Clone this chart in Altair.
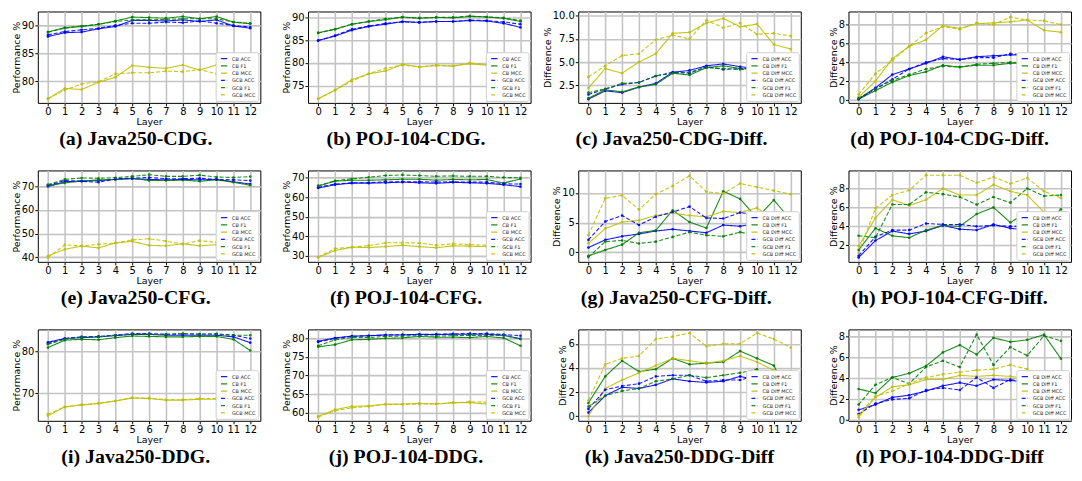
import altair as alt
import pandas as pd

LAYERS = list(range(13))

PERF_NAMES = ["CB ACC", "CB F1", "CB MCC", "GCB ACC", "GCB F1", "GCB MCC"]
DIFF_NAMES = ["CB Diff ACC", "CB Diff F1", "CB Diff MCC", "GCB Diff ACC", "GCB Diff F1", "GCB Diff MCC"]
COLORS = ["#0000ff", "#008000", "#bfbf00", "#0000ff", "#008000", "#bfbf00"]
DASHES = [[1, 0], [1, 0], [1, 0], [4, 2], [4, 2], [4, 2]]
OPACS = [0.9, 0.9, 0.9, 0.6, 0.6, 0.6]

# (a) Java250-CDG
A_CB_ACC = [88.0, 88.7, 88.8, 89.4, 89.8, 90.9, 90.9, 90.8, 91.0, 90.7, 91.0, 89.9, 89.5]
A_CB_F1 = [88.8, 89.6, 89.8, 90.2, 90.8, 91.5, 91.4, 91.3, 91.6, 91.2, 91.6, 90.6, 90.3]
A_CB_MCC = [76.8, 78.7, 78.5, 79.8, 80.7, 82.8, 82.5, 82.3, 82.9, 82.0, 82.9, 80.8, 80.3]
A_GCB_ACC = [88.3, 88.9, 89.2, 89.5, 90.0, 90.4, 90.4, 90.6, 90.5, 90.8, 90.4, 90.0, 89.7]
A_GCB_F1 = [88.8, 89.5, 89.9, 90.2, 90.7, 91.0, 91.0, 91.1, 91.2, 91.2, 91.2, 90.6, 90.4]
A_GCB_MCC = [76.9, 78.4, 79.5, 79.9, 81.3, 81.5, 81.5, 81.8, 81.7, 82.1, 81.3, 81.0, 80.5]

# (b) POJ-104-CDG
B_CB_ACC = [84.9, 85.9, 87.2, 88.0, 88.5, 89.1, 88.9, 89.1, 89.1, 89.3, 89.2, 88.7, 87.8]
B_CB_F1 = [86.6, 87.4, 88.5, 89.1, 89.5, 90.1, 89.8, 90.0, 89.9, 90.2, 90.1, 89.8, 89.1]
B_CB_MCC = [72.1, 74.0, 76.3, 77.6, 78.2, 79.7, 79.1, 79.4, 79.3, 79.8, 79.5, 79.0, 77.8]
B_GCB_ACC = [84.9, 86.0, 87.4, 88.1, 88.7, 89.0, 88.9, 89.1, 89.1, 89.4, 89.3, 89.0, 88.5]
B_GCB_F1 = [86.6, 87.4, 88.5, 89.1, 89.7, 90.0, 89.9, 90.0, 90.0, 90.3, 90.1, 89.9, 89.3]
B_GCB_MCC = [72.1, 74.0, 76.0, 77.6, 78.8, 79.5, 79.1, 79.5, 79.3, 80.0, 79.6, 79.3, 78.3]

# (c) Java250-CDG-Diff
C_CB_ACC = [1.0, 1.9, 1.7, 2.3, 2.7, 3.9, 4.1, 4.6, 4.8, 4.5, 4.3, 4.0, 3.2]
C_CB_F1 = [1.1, 2.0, 1.8, 2.3, 2.6, 3.8, 3.6, 4.4, 4.6, 4.3, 4.2, 3.9, 3.1]
C_CB_MCC = [2.2, 4.3, 3.8, 5.0, 5.9, 8.1, 8.2, 9.2, 9.7, 8.8, 9.1, 6.9, 6.4]
C_GCB_ACC = [1.5, 2.1, 2.6, 2.8, 3.5, 3.9, 3.8, 4.5, 4.2, 4.3, 4.3, 3.9, 3.3]
C_GCB_F1 = [1.7, 2.1, 2.7, 2.8, 3.5, 3.8, 3.9, 4.4, 4.3, 4.2, 4.2, 3.8, 3.2]
C_GCB_MCC = [3.4, 4.6, 5.7, 5.9, 7.4, 7.9, 7.5, 9.5, 8.7, 9.2, 8.0, 8.1, 7.8]

# (d) POJ-104-CDG-Diff
D_CB_ACC = [0.1, 1.3, 2.7, 3.3, 3.9, 4.6, 4.3, 4.6, 4.7, 4.8, 4.8, 4.7, 4.3]
D_CB_F1 = [0.1, 1.0, 1.9, 2.6, 3.0, 3.7, 3.5, 3.7, 3.7, 3.9, 3.9, 3.8, 3.7]
D_CB_MCC = [0.3, 2.0, 4.4, 5.7, 6.4, 7.9, 7.6, 8.1, 8.2, 8.3, 8.5, 7.4, 7.2]
D_GCB_ACC = [0.1, 1.2, 2.2, 3.3, 4.0, 4.4, 4.3, 4.5, 4.5, 4.9, 4.8, 4.3, 4.2]
D_GCB_F1 = [0.2, 1.2, 2.1, 2.7, 3.3, 3.6, 3.5, 3.8, 3.9, 4.0, 3.9, 3.9, 3.9]
D_GCB_MCC = [0.6, 2.8, 4.2, 5.7, 7.1, 7.8, 7.5, 8.2, 8.0, 8.8, 8.5, 8.4, 8.0]

# (e) Java250-CFG
E_CB_ACC = [70.0, 72.0, 72.3, 72.5, 73.0, 73.3, 73.0, 72.8, 73.0, 72.8, 73.0, 72.0, 71.0]
E_CB_F1 = [70.3, 71.5, 72.3, 72.8, 73.0, 73.5, 72.5, 72.5, 72.7, 72.2, 72.8, 71.8, 70.5]
E_CB_MCC = [40.5, 43.3, 44.7, 43.9, 46.0, 46.7, 45.0, 44.8, 45.7, 44.8, 45.3, 45.0, 45.5]
E_GCB_ACC = [70.5, 72.5, 72.2, 71.8, 73.2, 73.5, 73.8, 73.3, 73.3, 73.5, 73.0, 72.8, 72.5]
E_GCB_F1 = [70.8, 73.0, 73.6, 73.5, 73.7, 74.3, 75.0, 74.3, 74.3, 74.8, 74.0, 73.8, 74.2]
E_GCB_MCC = [39.8, 45.2, 44.8, 45.4, 46.0, 47.3, 47.8, 46.8, 45.5, 47.0, 46.3, 45.5, 45.8]

# (f) POJ-104-CFG
F_CB_ACC = [64.8, 66.5, 67.3, 67.3, 67.5, 67.8, 67.5, 67.2, 67.7, 67.5, 67.2, 66.5, 65.5]
F_CB_F1 = [65.8, 68.3, 68.8, 68.8, 69.0, 69.3, 69.3, 68.8, 69.2, 69.0, 69.2, 67.3, 69.5]
F_CB_MCC = [29.3, 32.8, 34.5, 34.3, 34.8, 35.5, 34.8, 34.2, 35.2, 35.0, 34.8, 34.0, 33.5]
F_GCB_ACC = [65.2, 66.8, 67.5, 67.5, 68.0, 68.0, 68.0, 67.8, 68.0, 67.8, 67.8, 67.0, 66.8]
F_GCB_F1 = [66.0, 68.5, 69.5, 70.3, 71.2, 71.5, 71.2, 70.8, 71.0, 70.8, 70.8, 70.2, 70.0]
F_GCB_MCC = [29.5, 33.8, 34.5, 35.3, 36.8, 36.8, 36.6, 35.5, 36.2, 35.8, 35.5, 35.0, 34.8]

# (g) Java250-CFG-Diff
G_CB_ACC = [0.8, 2.1, 2.7, 3.1, 3.6, 3.9, 3.6, 3.3, 4.6, 4.4, 4.9, 3.8, 3.5]
G_CB_F1 = [-0.6, 0.4, 1.3, 3.3, 3.7, 7.1, 5.1, 4.1, 10.3, 9.0, 5.8, 8.8, 5.5]
G_CB_MCC = [1.5, 4.0, 5.1, 5.4, 6.2, 6.6, 6.2, 6.0, 6.9, 6.7, 7.5, 5.5, 5.0]
G_GCB_ACC = [2.1, 5.2, 6.2, 4.6, 6.0, 6.8, 7.7, 5.8, 5.7, 6.7, 6.4, 6.4, 5.8]
G_GCB_F1 = [-0.8, 1.8, 2.0, 1.5, 1.8, 2.6, 3.4, 2.9, 2.7, 3.4, 2.8, 2.6, 2.3]
G_GCB_MCC = [2.9, 9.1, 9.6, 7.2, 9.8, 11.2, 12.9, 10.2, 9.9, 11.6, 11.0, 10.4, 9.8]

# (h) POJ-104-CFG-Diff
H_CB_ACC = [0.7, 2.5, 3.5, 3.2, 3.5, 4.1, 3.7, 3.6, 4.2, 3.8, 3.6, 3.5, 3.0]
H_CB_F1 = [1.5, 3.8, 3.0, 2.8, 3.6, 4.1, 4.0, 5.3, 6.0, 4.4, 5.5, 4.1, 5.8]
H_CB_MCC = [1.9, 4.9, 6.8, 6.2, 6.8, 8.0, 7.3, 7.3, 8.4, 7.7, 7.3, 5.5, 5.2]
H_GCB_ACC = [0.9, 2.9, 3.6, 3.6, 4.3, 4.2, 4.2, 4.0, 4.1, 4.0, 4.0, 3.5, 3.3]
H_GCB_F1 = [3.0, 2.8, 6.3, 6.3, 7.6, 7.4, 7.1, 6.3, 7.1, 6.5, 8.0, 7.2, 7.3]
H_GCB_MCC = [1.2, 5.9, 7.3, 7.8, 9.4, 9.4, 9.4, 8.6, 9.2, 8.5, 9.1, 7.7, 7.0]

# (i) Java250-DDG
I_CB_ACC = [82.3, 83.2, 83.4, 83.6, 83.9, 84.2, 84.2, 84.0, 84.0, 84.0, 84.0, 83.6, 82.2]
I_CB_F1 = [81.0, 82.8, 83.0, 82.9, 83.4, 83.8, 83.7, 83.6, 83.6, 83.7, 83.7, 83.0, 80.3]
I_CB_MCC = [64.5, 66.7, 67.1, 67.5, 68.1, 68.8, 68.7, 68.3, 68.3, 68.5, 68.5, 67.8, 67.0]
I_GCB_ACC = [82.0, 83.2, 83.6, 83.7, 84.0, 84.4, 84.4, 84.2, 84.3, 84.3, 84.3, 84.0, 83.2]
I_GCB_F1 = [81.8, 83.0, 83.6, 83.6, 84.0, 84.2, 84.2, 84.2, 84.4, 84.2, 84.3, 84.0, 84.0]
I_GCB_MCC = [64.9, 66.6, 67.2, 67.5, 68.1, 68.9, 68.8, 68.4, 68.4, 68.7, 68.7, 68.3, 68.0]

# (j) POJ-104-DDG
J_CB_ACC = [79.2, 80.1, 80.6, 80.7, 80.9, 80.9, 81.1, 81.0, 81.1, 81.1, 81.1, 80.8, 79.9]
J_CB_F1 = [77.7, 78.3, 79.6, 79.7, 80.0, 80.1, 80.5, 80.3, 80.3, 80.2, 80.5, 80.1, 78.0]
J_CB_MCC = [59.0, 60.8, 61.7, 61.8, 62.3, 62.3, 62.5, 62.3, 62.7, 62.7, 62.3, 62.2, 62.0]
J_GCB_ACC = [79.0, 80.0, 80.5, 80.7, 80.9, 81.0, 81.0, 81.1, 81.2, 81.3, 81.3, 81.0, 80.7]
J_GCB_F1 = [78.0, 79.6, 80.2, 80.2, 80.5, 80.6, 80.7, 80.6, 80.7, 80.8, 80.7, 80.8, 79.8]
J_GCB_MCC = [58.8, 60.5, 61.3, 61.7, 62.2, 62.2, 62.3, 62.4, 62.6, 62.9, 62.8, 62.6, 62.4]

# (k) Java250-DDG-Diff
K_CB_ACC = [0.3, 1.7, 2.4, 2.3, 2.6, 3.1, 2.9, 2.8, 2.9, 3.3, 3.0, 2.5, 2.2]
K_CB_F1 = [1.1, 3.3, 4.6, 3.7, 3.9, 4.8, 4.3, 4.4, 4.5, 5.4, 4.8, 4.2, 1.5]
K_CB_MCC = [0.0, 2.3, 3.0, 3.6, 4.2, 4.8, 4.6, 4.4, 4.6, 5.0, 4.5, 3.8, 2.0]
K_GCB_ACC = [0.6, 2.2, 2.5, 2.7, 3.3, 3.4, 3.4, 2.9, 3.0, 3.0, 3.4, 3.2, 2.8]
K_GCB_F1 = [0.8, 1.7, 2.1, 2.3, 2.9, 3.1, 3.4, 3.2, 3.4, 3.6, 3.9, 3.1, 2.5]
K_GCB_MCC = [1.3, 4.3, 4.8, 5.0, 6.4, 6.6, 6.9, 5.8, 6.0, 6.0, 6.9, 6.4, 5.7]

# (l) POJ-104-DDG-Diff
L_CB_ACC = [1.0, 1.5, 2.2, 2.4, 2.8, 3.3, 3.6, 3.3, 3.9, 3.8, 3.7, 3.4, 3.1]
L_CB_F1 = [3.0, 2.6, 4.1, 4.5, 5.2, 6.5, 7.2, 6.3, 7.9, 7.5, 7.7, 8.2, 5.9]
L_CB_MCC = [0.3, 2.2, 3.2, 3.4, 3.9, 3.9, 4.3, 4.2, 4.3, 4.2, 4.0, 3.9, 3.6]
L_GCB_ACC = [0.6, 1.6, 2.0, 2.1, 2.9, 3.1, 2.9, 4.1, 3.1, 3.9, 3.6, 3.3, 2.9]
L_GCB_F1 = [1.5, 3.4, 4.1, 3.5, 5.1, 5.7, 5.1, 8.2, 5.3, 7.0, 6.2, 8.1, 7.6]
L_GCB_MCC = [0.5, 2.3, 2.8, 3.5, 4.1, 4.4, 4.6, 4.8, 4.9, 5.3, 4.9, 4.2, 3.8]

CAPTIONS = ["(a) Java250-CDG.", "(b) POJ-104-CDG.", "(c) Java250-CDG-Diff.", "(d) POJ-104-CDG-Diff.",
            "(e) Java250-CFG.", "(f) POJ-104-CFG.", "(g) Java250-CFG-Diff.", "(h) POJ-104-CFG-Diff.",
            "(i) Java250-DDG.", "(j) POJ-104-DDG.", "(k) Java250-DDG-Diff", "(l) POJ-104-DDG-Diff"]
IS_DIFF = [False, False, True, True] * 3
Y_TICKS = [[80, 85, 90], [75, 80, 85, 90], [2.5, 5.0, 7.5, 10.0], [0, 2, 4, 6, 8],
           [40, 50, 60, 70], [30, 40, 50, 60, 70], [0, 5, 10], [2, 4, 6, 8],
           [70, 80], [60, 65, 70, 75, 80], [0, 2, 4, 6], [0, 2, 4, 6, 8]]
Y_DOMAINS = [[76.1, 92.5], [71.2, 91.3], [0.6, 10.45], [-0.3, 9.4],
             [38.0, 76.8], [27.0, 73.8], [-1.6, 13.8], [0.25, 9.9],
             [63.3, 85.4], [57.8, 82.4], [-0.38, 7.2], [-0.05, 8.7]]
Y_FORMATS = ["d", "d", ".1f", "d"] + ["d"] * 8

SERIES = [
    [A_CB_ACC, A_CB_F1, A_CB_MCC, A_GCB_ACC, A_GCB_F1, A_GCB_MCC],
    [B_CB_ACC, B_CB_F1, B_CB_MCC, B_GCB_ACC, B_GCB_F1, B_GCB_MCC],
    [C_CB_ACC, C_CB_F1, C_CB_MCC, C_GCB_ACC, C_GCB_F1, C_GCB_MCC],
    [D_CB_ACC, D_CB_F1, D_CB_MCC, D_GCB_ACC, D_GCB_F1, D_GCB_MCC],
    [E_CB_ACC, E_CB_F1, E_CB_MCC, E_GCB_ACC, E_GCB_F1, E_GCB_MCC],
    [F_CB_ACC, F_CB_F1, F_CB_MCC, F_GCB_ACC, F_GCB_F1, F_GCB_MCC],
    [G_CB_ACC, G_CB_F1, G_CB_MCC, G_GCB_ACC, G_GCB_F1, G_GCB_MCC],
    [H_CB_ACC, H_CB_F1, H_CB_MCC, H_GCB_ACC, H_GCB_F1, H_GCB_MCC],
    [I_CB_ACC, I_CB_F1, I_CB_MCC, I_GCB_ACC, I_GCB_F1, I_GCB_MCC],
    [J_CB_ACC, J_CB_F1, J_CB_MCC, J_GCB_ACC, J_GCB_F1, J_GCB_MCC],
    [K_CB_ACC, K_CB_F1, K_CB_MCC, K_GCB_ACC, K_GCB_F1, K_GCB_MCC],
    [L_CB_ACC, L_CB_F1, L_CB_MCC, L_GCB_ACC, L_GCB_F1, L_GCB_MCC],
]

W, H = 224, 92


def make_panel(i):
    names = DIFF_NAMES if IS_DIFF[i] else PERF_NAMES
    rows = []
    for name, vals in zip(names, SERIES[i]):
        for layer, v in zip(LAYERS, vals):
            rows.append({"layer": layer, "value": v, "series": name})
    df = pd.DataFrame(rows)
    leg = alt.Legend(title=None, orient="bottom-right", offset=2, padding=2.5,
                     fillColor="white", strokeColor="#cfcfcf", cornerRadius=2,
                     labelFont="DejaVu Sans", labelFontSize=5, labelColor="#222222",
                     symbolType="stroke", symbolSize=40, symbolStrokeWidth=1.2,
                     rowPadding=0.3, labelOffset=4, symbolOffset=2)
    ytitle = "Difference %" if IS_DIFF[i] else "Performance %"
    return alt.Chart(df).mark_line(
        strokeWidth=1.1, clip=True,
        point=alt.OverlayMarkDef(filled=True, size=7),
    ).encode(
        x=alt.X("layer:Q", scale=alt.Scale(domain=[-0.6, 12.6], nice=False, zero=False),
                axis=alt.Axis(values=LAYERS, format="d", title="Layer", labelFlush=False)),
        y=alt.Y("value:Q", scale=alt.Scale(domain=Y_DOMAINS[i], nice=False, zero=False),
                axis=alt.Axis(values=Y_TICKS[i], format=Y_FORMATS[i], title=ytitle)),
        color=alt.Color("series:N", scale=alt.Scale(domain=names, range=COLORS), legend=leg),
        strokeDash=alt.StrokeDash("series:N", scale=alt.Scale(domain=names, range=DASHES), legend=leg),
        opacity=alt.Opacity("series:N", scale=alt.Scale(domain=names, range=OPACS), legend=None),
    ).properties(
        width=W, height=H,
        title=alt.TitleParams(CAPTIONS[i], orient="bottom", anchor="middle", frame="bounds", offset=3),
    )


panels = [make_panel(i) for i in range(12)]

chart = alt.concat(
    *panels, columns=4, spacing={"row": 68, "column": 48}, bounds="flush"
).resolve_scale(
    x="independent", y="independent", color="independent",
    strokeDash="independent", opacity="independent",
).resolve_legend(
    color="independent", strokeDash="independent",
).properties(
    padding={"left": 2, "top": 0, "right": 2, "bottom": 0}
).configure_view(
    stroke="black", strokeWidth=1
).configure_axis(
    labelFont="DejaVu Sans", titleFont="DejaVu Sans", labelFontSize=10, titleFontSize=9.5,
    titleFontWeight="normal", labelColor="black", titleColor="black", tickColor="black",
    tickSize=3, domain=False, gridColor="#c4c4c4", gridWidth=1.6, labelPadding=1, titlePadding=0,
).configure_title(
    font="Liberation Serif", fontSize=20, fontWeight="bold", color="black"
)

chart.save("out.html", embed_options={"renderer": "svg", "actions": False})
